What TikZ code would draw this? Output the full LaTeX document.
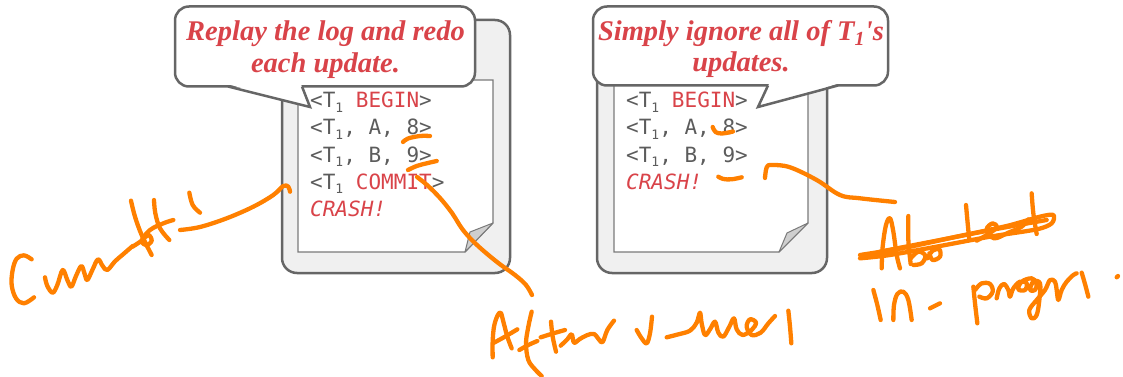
\documentclass[tikz,border=0pt]{standalone}
\usepackage{fontspec}
\newfontfamily\bubblefont{Liberation Serif}
\newfontfamily\logfont{DejaVu Sans Mono}
\definecolor{docfill}{HTML}{F0F0F0}
\definecolor{docline}{HTML}{666666}
\definecolor{pageline}{HTML}{7A7A7A}
\definecolor{foldfill}{HTML}{CFCFCF}
\definecolor{hlred}{RGB}{217,67,73}
\definecolor{logtext}{HTML}{5C5C5C}
\definecolor{inkorange}{RGB}{255,128,0}
\newcommand{\lsub}[1]{\raisebox{-0.22em}{\fontsize{13}{13}\selectfont #1}}
\begin{document}
\begin{tikzpicture}[x=1pt,y=-1pt,
  docbox/.style={draw=docline, fill=docfill, line width=2.5pt, rounded corners=15pt,
    minimum height=253pt, inner sep=0pt},
  pagebox/.style={draw=pageline, fill=white, line width=1.2pt},
  foldbox/.style={draw=pageline, fill=foldfill, line width=1pt, line join=round},
  bubble/.style={draw=docline, fill=white, line width=2.5pt, rounded corners=14pt, inner sep=0pt},
  tailline/.style={draw=docline, line width=2.5pt},
  bubbletext/.style={anchor=base, inner sep=0pt, text=hlred,
    font=\bubblefont\bfseries\itshape\fontsize{28.5}{32}\selectfont},
  logline/.style={anchor=base west, inner sep=0pt, text=logtext,
    font=\logfont\fontsize{21}{21}\selectfont},
  inkstroke/.style={draw=inkorange, line width=4.3pt, line cap=round, line join=round},
]
\useasboundingbox (0,0) rectangle (1123,377);

% ---- log files ----
\node[docbox, minimum width=228pt] (docL) at (396,146.5) {};
\node[docbox, minimum width=230pt] (docR) at (712,146.5) {};

\draw[pagebox] (298,80) -- (493,80) -- (493,223) -- (465,252) -- (298,252) -- cycle;
\draw[foldbox] (493,223) -- (465,252) -- (470,232) -- cycle;
\draw[pagebox] (614,80) -- (808,80) -- (808,223) -- (779,252) -- (614,252) -- cycle;
\draw[foldbox] (808,223) -- (779,252) -- (787,233) -- cycle;

% left log: committed transaction
\node[logline] (l1) at (310,108) {<T\lsub{1} \textcolor{hlred}{BEGIN}>};
\node[logline] (l2) at (310,135) {<T\lsub{1}, A, 8>};
\node[logline] (l3) at (310,162) {<T\lsub{1}, B, 9>};
\node[logline] (l4) at (310,189) {<T\lsub{1} \textcolor{hlred}{COMMIT}>};
\node[logline, text=hlred] (l5) at (310,216) {\itshape CRASH!};

% right log: transaction still running
\node[logline] (r1) at (626,108) {<T\lsub{1} \textcolor{hlred}{BEGIN}>};
\node[logline] (r2) at (626,135) {<T\lsub{1}, A, 8>};
\node[logline] (r3) at (626,162) {<T\lsub{1}, B, 9>};
\node[logline, text=hlred] (r4) at (626,189) {\itshape CRASH!};

% ---- speech bubbles ----
\node[bubble, minimum width=300pt, minimum height=80pt] (bubL) at (325,46.5) {};
\coordinate (tipL) at (310,107);
\fill[white] (229,84.5) -- (tipL) -- (301,84.5) -- cycle;
\draw[tailline] (228,86.5) -- (tipL) -- (302,86.5);
\node[bubbletext] (bubL1) at (325.5,40.5) {Replay the log and redo};
\node[bubbletext] (bubL2) at (325.5,72.5) {each update.};

\node[bubble, minimum width=295pt, minimum height=79pt] (bubR) at (740.5,46) {};
\coordinate (tipR) at (758,107);
\fill[white] (837,84) -- (tipR) -- (769,84) -- cycle;
\draw[tailline] (838,85.5) -- (tipR) -- (768,85.5);
\node[bubbletext] (bubR1) at (741,40.5) {Simply ignore all of T\textsubscript{1}'s};
\node[bubbletext] (bubR2) at (741,71.5) {updates.};

% ---- pen annotations ----
% marks on the log records
\draw[inkstroke] plot[smooth, tension=0.6] coordinates {(403,142) (408,138.5) (420,136) (430,136)};
\draw[inkstroke] plot[smooth, tension=0.6] coordinates {(408,170) (416.7,166) (426.7,163.3) (436.7,161)};
\draw[inkstroke] plot[smooth, tension=0.6] coordinates {(712.7,127) (715.5,132) (722,133.5) (733,131.5)};
\draw[inkstroke] plot[smooth, tension=0.6] coordinates {(718.3,176.7) (723.3,179) (731.7,179.3) (741.7,177.3)};

% leader strokes
\coordinate (penC) at (180,230);
\draw[inkstroke] plot[smooth, tension=0.6] coordinates {(penC) (200,227) (226.7,218.3) (253.3,206.7) (273.3,195) (283.3,186) (288.3,186.7) (290,191.7)};
\coordinate (penA) at (532,295);
\draw[inkstroke] plot[smooth, tension=0.6] coordinates {(417,177) (427,185) (440,198) (452,213) (463,230) (477,245) (497,262) (515,275) (526,285) (penA)};
\coordinate (penP) at (895,202);
\draw[inkstroke] plot[smooth, tension=0.6] coordinates {(765,178) (766.7,167.3) (771.7,165) (790,167.3) (816.7,180) (840,195) (860,198.3) (penP)};

% "Committed"
\begin{scope}[shift={(0,170)}, scale=1/3]
\draw[inkstroke] plot[smooth, tension=0.6] coordinates {(95,268) (72,256) (50,266) (38,300) (35,345) (48,385) (72,400) (102,382)};
\draw[inkstroke] plot[smooth, tension=0.6] coordinates {(135,322) (142,348) (158,368) (172,345) (188,300) (202,330) (214,350) (228,318) (244,288) (254,312) (262,330) (278,298) (294,268) (308,288) (322,300) (345,274) (368,254) (398,228)};
\draw[inkstroke] plot[smooth, tension=0.6] coordinates {(393,92) (405,140) (425,195) (455,255)};
\draw[inkstroke] plot[smooth, tension=0.6] coordinates {(462,90) (466,130) (480,175) (508,210)};
\draw[inkstroke] plot[smooth, tension=0.6] coordinates {(568,68) (578,105) (600,128)};
\draw[inkstroke] plot[smooth, tension=0.6] coordinates {(398,230) (425,212) (445,195) (455,212) (440,225) (425,212) (450,180) (490,160) (520,150)};
\end{scope}

% "After values"
\begin{scope}[shift={(470,280)}, scale=1/3]
\draw[inkstroke] plot[smooth, tension=0.6] coordinates {(68,232) (68,185) (72,140) (82,108) (92,98) (100,125) (112,170) (125,205)};
\draw[inkstroke] plot[smooth, tension=0.6] coordinates {(72,188) (105,170) (142,148)};
\draw[inkstroke] plot[smooth, tension=0.6] coordinates {(185,95) (175,140) (168,190) (175,240) (195,268) (215,288)};
\draw[inkstroke] plot[smooth, tension=0.6] coordinates {(148,210) (175,195) (202,183)};
\draw[inkstroke] plot[smooth, tension=0.6] coordinates {(243,125) (248,170) (258,215)};
\draw[inkstroke] plot[smooth, tension=0.6] coordinates {(212,172) (250,160) (285,150)};
\draw[inkstroke] plot[smooth, tension=0.6] coordinates {(272,197) (292,178) (305,163) (312,188) (328,178) (350,166) (372,162) (388,180) (398,186) (412,150) (432,122)};
\draw[inkstroke] plot[smooth, tension=0.6] coordinates {(500,150) (515,175) (530,190) (540,160) (546,110)};
\draw[inkstroke] plot[smooth, tension=0.6] coordinates {(590,172) (625,163) (660,152) (680,128) (690,98) (695,130) (705,165) (720,148) (735,125) (745,158) (760,170) (778,140) (792,115) (800,148) (818,165) (845,150) (858,128) (840,118) (830,140) (845,165) (872,158) (895,130) (915,108)};
\draw[inkstroke] plot[smooth, tension=0.6] coordinates {(955,92) (960,140) (964,190)};
\end{scope}

% "Aborted" struck out, then "In-progress."
\begin{scope}[shift={(840,190)}, scale=1/3]
\draw[inkstroke] plot[smooth, tension=0.6] coordinates {(125,235) (128,170) (138,105) (150,85) (160,125) (170,195) (180,235)};
\draw[inkstroke] plot[smooth, tension=0.6] coordinates {(112,195) (150,185) (190,172)};
\draw[inkstroke] plot[smooth, tension=0.6] coordinates {(205,78) (205,150) (212,222)};
\draw[inkstroke] plot[smooth, tension=0.6] coordinates {(212,205) (235,185) (256,197) (245,220) (220,225)};
\draw[inkstroke] plot[smooth, tension=0.6] coordinates {(262,205) (278,182) (298,178) (300,200) (278,210) (268,190)};
\draw[inkstroke] plot[smooth, tension=0.6] coordinates {(378,45) (383,100) (388,150)};
\draw[inkstroke] plot[smooth, tension=0.6] coordinates {(410,152) (445,132) (470,112) (458,100) (440,118) (462,145) (505,128) (545,110) (565,88)};
\draw[inkstroke] plot[smooth, tension=0.6] coordinates {(575,10) (580,70) (590,132)};
\draw[inkstroke] plot[smooth, tension=0.5] coordinates {(60,195) (200,172) (350,140) (500,108) (600,80) (640,75) (635,100) (590,118) (450,140) (300,168) (150,195) (60,205)};
\draw[inkstroke] plot[smooth, tension=0.6] coordinates {(120,185) (300,150) (480,115) (620,90)};
% In-progress.
\draw[inkstroke] plot[smooth, tension=0.6] coordinates {(100,300) (112,345) (122,390)};
\draw[inkstroke] plot[smooth, tension=0.6] coordinates {(160,390) (162,345) (172,312) (190,305) (205,330) (215,390)};
\draw[inkstroke] plot[smooth, tension=0.6] coordinates {(270,355) (300,340)};
\draw[inkstroke] plot[smooth, tension=0.6] coordinates {(400,290) (405,340) (412,400)};
\draw[inkstroke] plot[smooth, tension=0.6] coordinates {(405,300) (425,280) (450,282) (458,305) (440,325) (418,320)};
\draw[inkstroke] plot[smooth, tension=0.6] coordinates {(470,325) (478,295) (492,282) (505,300) (510,320) (520,295) (540,275) (560,280) (555,300) (535,298) (545,275) (575,265) (590,280) (585,300) (570,300) (580,275) (600,280) (598,330) (590,375) (575,385) (568,360) (590,330) (615,300) (630,270) (645,275) (650,300) (655,330) (665,300) (680,275) (700,255) (710,250)};
\draw[inkstroke] plot[smooth, tension=0.6] coordinates {(725,248) (735,282) (745,320)};
\draw[inkstroke] (830,262) -- (834,258);
\end{scope}
\end{tikzpicture}
\end{document}
